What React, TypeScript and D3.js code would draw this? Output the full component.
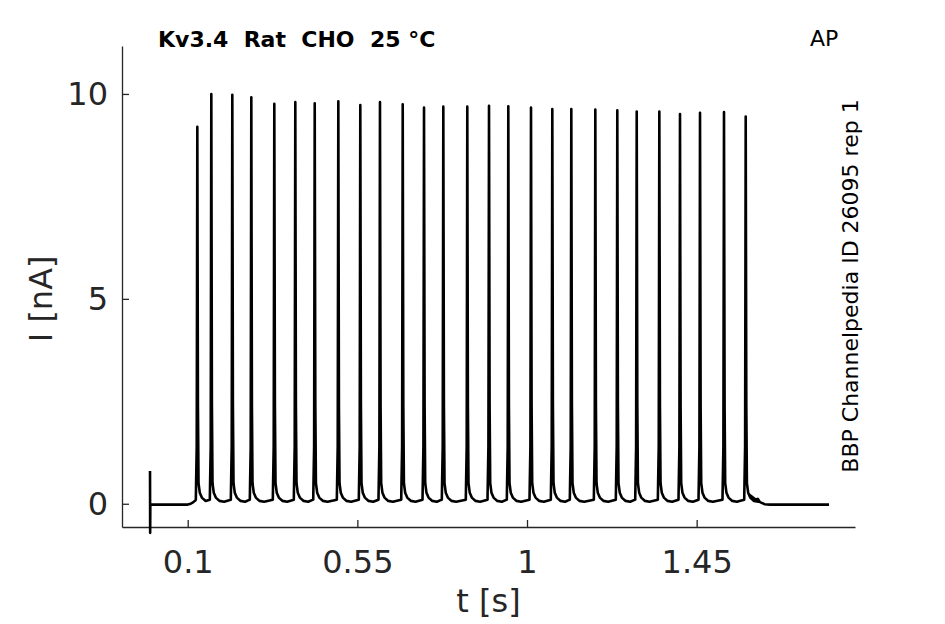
import * as d3 from 'd3'
import { useEffect, useRef } from 'react'

const W = 945
const H = 624
const margin = { top: 46, right: 90, bottom: 97, left: 122 }
const innerW = W - margin.left - margin.right
const innerH = H - margin.top - margin.bottom

const xTicks = [0.1, 0.55, 1, 1.45]
const yTicks = [0, 5, 10]

// spike times (s) and peak currents (nA)
const spikeTimes = [
  0.1255, 0.1626, 0.2183, 0.2687, 0.3297, 0.3854, 0.4369, 0.4995, 0.5578,
  0.61, 0.6703, 0.7268, 0.778, 0.8416, 0.8992, 0.9504, 1.0106, 1.0671,
  1.1175, 1.1812, 1.2395, 1.291, 1.351, 1.4058, 1.4589, 1.5225, 1.5801,
]
const spikePeaks = [
  9.2, 10.0, 9.98, 9.92, 9.76, 9.8, 9.77, 9.82, 9.73, 9.8, 9.75, 9.67, 9.69,
  9.69, 9.71, 9.7, 9.67, 9.63, 9.63, 9.62, 9.6, 9.57, 9.57, 9.51, 9.54, 9.56,
  9.45,
]
// shape of one spike: [offset from peak (s), current (nA)], null = peak
const spikeShape: [number, number | null][] = [
  [-0.004, 0.1],
  [-0.0016, 1.4],
  [0, null],
  [0.0016, 2.4],
  [0.0032, 0.5],
  [0.0065, 0.27],
  [0.012, 0.15],
  [0.022, 0.07],
  [0.034, 0.05],
]
// before the spike train and after it
const preTrace: [number, number][] = [
  [0, 0.8],
  [0.0004, -0.71],
  [0.0008, -0.02],
  [0.1, -0.02],
  [0.108, 0.0],
  [0.115, 0.04],
  [0.12, 0.08],
]
const postTrace: [number, number][] = [
  [1.59, 0.22],
  [1.6, 0.12],
  [1.608, 0.1],
  [1.612, 0.12],
  [1.618, 0.04],
  [1.63, -0.01],
  [1.645, -0.02],
  [1.801, -0.02],
]

function buildTrace(): [number, number][] {
  const pts: [number, number][] = [...preTrace]
  spikeTimes.forEach((t0, i) => {
    const next = spikeTimes[i + 1] ?? Infinity
    spikeShape.forEach(([dt, v]) => {
      const t = t0 + dt
      if (dt > 0 && t > next - 0.006) return
      pts.push([t, v === null ? spikePeaks[i] : v])
    })
  })
  return pts.concat(postTrace)
}

export default function App() {
  const ref = useRef<SVGSVGElement>(null)

  useEffect(() => {
    const svg = d3.select(ref.current)
    svg.selectAll('*').remove()
    const g = svg
      .append('g')
      .attr('transform', `translate(${margin.left}, ${margin.top})`)

    const x = d3.scaleLinear().domain([-0.0743, 1.87]).range([0, innerW])
    const y = d3.scaleLinear().domain([-0.567, 11.17]).range([innerH, 0])

    const ink = '#262626'
    const font = 'DejaVu Sans, sans-serif'

    // axes
    const xAxis = g
      .append('g')
      .attr('transform', `translate(0, ${innerH})`)
      .call(
        d3
          .axisBottom(x)
          .tickValues(xTicks)
          .tickFormat((d) => String(d))
          .tickSizeInner(-7)
          .tickSizeOuter(0)
          .tickPadding(23)
      )
    const yAxis = g.append('g').call(
      d3
        .axisLeft(y)
        .tickValues(yTicks)
        .tickFormat((d) => String(d))
        .tickSizeInner(-7)
        .tickSizeOuter(0)
        .tickPadding(14)
    )
    ;[xAxis, yAxis].forEach((a) => {
      a.select('.domain').attr('stroke', ink).attr('stroke-width', 1.3)
      a.selectAll('.tick line').attr('stroke', ink).attr('stroke-width', 1.3)
      a.selectAll('.tick text')
        .attr('fill', ink)
        .style('font-family', font)
        .style('font-size', '32px')
    })

    // trace
    const line = d3
      .line<[number, number]>()
      .x((d) => x(d[0]))
      .y((d) => y(d[1]))
    g.append('path')
      .datum(buildTrace())
      .attr('fill', 'none')
      .attr('stroke', '#000')
      .attr('stroke-width', 2.6)
      .attr('stroke-linejoin', 'round')
      .attr('d', line)

    // labels
    svg
      .append('text')
      .attr('x', margin.left + innerW / 2)
      .attr('y', 612)
      .attr('text-anchor', 'middle')
      .attr('fill', ink)
      .style('font-family', font)
      .style('font-size', '32px')
      .text('t [s]')
    svg
      .append('text')
      .attr('transform', `translate(52, ${margin.top + y(5)}) rotate(-90)`)
      .attr('text-anchor', 'middle')
      .attr('fill', ink)
      .style('font-family', font)
      .style('font-size', '32px')
      .text('I [nA]')
    svg
      .append('text')
      .attr('x', 158)
      .attr('y', 47)
      .attr('fill', '#000')
      .style('font-family', font)
      .style('font-size', '22px')
      .style('font-weight', 'bold')
      .style('white-space', 'pre')
      .text('Kv3.4  Rat  CHO  25 °C')
    svg
      .append('text')
      .attr('x', 810)
      .attr('y', 46)
      .attr('fill', '#000')
      .style('font-family', font)
      .style('font-size', '22px')
      .text('AP')
    svg
      .append('text')
      .attr('transform', 'translate(858, 286) rotate(-90)')
      .attr('text-anchor', 'middle')
      .attr('fill', '#000')
      .style('font-family', font)
      .style('font-size', '22px')
      .text('BBP Channelpedia ID 26095 rep 1')
  }, [])

  return (
    <svg
      ref={ref}
      width={W}
      height={H}
      style={{ position: 'absolute', left: 0, top: 0, background: '#fff' }}
    />
  )
}
